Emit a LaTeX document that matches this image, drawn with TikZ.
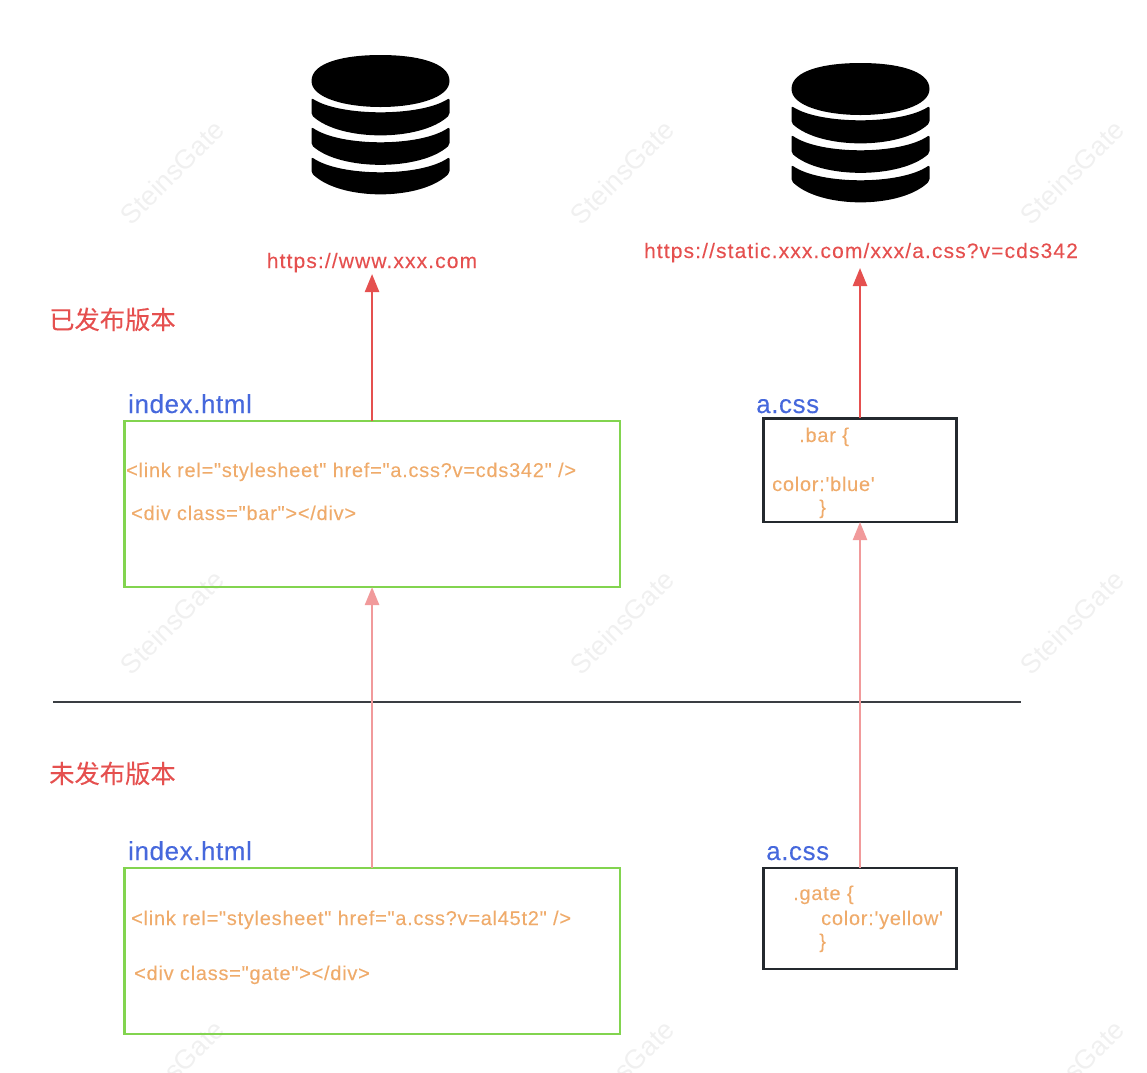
\documentclass[tikz,border=0pt]{standalone}
\usepackage{fontspec}
\newfontfamily\plainf{Liberation Sans}
\newfontfamily\urlf[LetterSpace=5.3,FakeBold=0.12]{Liberation Sans}
\newfontfamily\codef[LetterSpace=3.7,FakeBold=0.12]{Liberation Sans}
\newfontfamily\namef[LetterSpace=2.2,FakeBold=0.1]{Liberation Sans}
\newfontfamily\cjk[FakeBold=0.1]{Noto Sans CJK SC}
\usetikzlibrary{arrows.meta,positioning}
\definecolor{redc}{HTML}{E5504F}
\definecolor{pinkc}{HTML}{F19A9B}
\definecolor{orangec}{HTML}{EFAB6B}
\definecolor{bluec}{HTML}{4668DC}
\definecolor{greenc}{HTML}{82D44F}
\definecolor{darkc}{HTML}{24292E}
\definecolor{wmc}{HTML}{F0F0F0}
\tikzset{
  x=1pt,y=-1pt,
  greenbox/.style={draw=greenc,line width=2.4pt,minimum width=495.5pt,minimum height=166pt,inner sep=0pt,outer sep=0pt,anchor=north west},
  blackbox/.style={draw=darkc,line width=2.6pt,minimum width=193.4pt,inner sep=0pt,outer sep=0pt,anchor=north west},
  code/.style={text=orangec,font=\codef\fontsize{20}{22}\selectfont,anchor=base west,inner sep=0pt},
  fname/.style={text=bluec,font=\namef\fontsize{26}{28}\selectfont,anchor=base west,inner sep=0pt},
  urltext/.style={text=redc,font=\urlf\fontsize{21}{24}\selectfont,anchor=base,inner sep=0pt},
  version/.style={text=redc,font=\cjk\fontsize{25.3}{28}\selectfont,anchor=base west,inner sep=0pt},
  redarrow/.style={draw=redc,line width=2.4pt,-{Triangle[width=14pt,length=18pt]}},
  pinkarrow/.style={draw=pinkc,line width=2.4pt,-{Triangle[width=14pt,length=18pt]}},
  watermark/.style={text=wmc,font=\plainf\fontsize{27}{30}\selectfont,rotate=45,inner sep=0pt},
  dbicon/.pic={
    \fill[black] (-69,81) .. controls (-69,62) and (-35,55) .. (0,55) .. controls (35,55) and (69,62) .. (69,81) .. controls (69,98) and (35,107) .. (0,107) .. controls (-35,107) and (-69,98) .. cycle;
    \fill[black,rounded corners=2pt] (-69,98) .. controls (-40,116.7) and (40,116.7) .. (69,98) -- (69,115) .. controls (40,141.7) and (-40,141.7) .. (-69,115) -- cycle;
    \fill[black,rounded corners=2pt] (-69,127) .. controls (-40,147) and (40,147) .. (69,127) -- (69,145) .. controls (40,171) and (-40,171) .. (-69,145) -- cycle;
    \fill[black,rounded corners=2pt] (-69,157) .. controls (-40,177) and (40,177) .. (69,157) -- (69,173) .. controls (40,201) and (-40,201) .. (-69,173) -- cycle;
  }
}
\begin{document}
\begin{tikzpicture}
\useasboundingbox (0,0) rectangle (1147,1072);
% watermarks
\foreach \wx/\wy in {172/172,622/172,1072/172,172/622,622/622,1072/622,172/1072,622/1072,1072/1072}{
  \node[watermark] at (\wx,\wy) {SteinsGate};
}
% database icons
\pic at (380.5,0) {dbicon};
\pic at (860.5,8) {dbicon};
% url labels
\node[urltext] (url1) at (372,268) {https://www.xxx.com};
\node[urltext] (url2) at (861,258) {https://static.xxx.com/xxx/a.css?v=cds342};
% version labels
\node[version] (pub) at (49,329) {已发布版本};
\node[version] (unpub) at (49,783) {未发布版本};
% boxes
\node[greenbox] (idxA) at (124.3,421) {};
\node[greenbox] (idxB) at (124.3,868) {};
\node[blackbox,minimum height=103.7pt] (cssA) at (763.3,418.3) {};
\node[blackbox,minimum height=101pt] (cssB) at (763.3,868) {};
% box titles
\node[fname] (idxAt) at (128,413) {index.html};
\node[fname] (idxBt) at (128,860) {index.html};
\node[fname] (cssAt) at (756,413) {a.css};
\node[fname] (cssBt) at (766,860) {a.css};
% code
\node[code] (a1) at (126,477) {<link rel="stylesheet" href="a.css?v=cds342" />};
\node[code] (a2) at (131,520) {<div class="bar"></div>};
\node[code] (b1) at (131,925) {<link rel="stylesheet" href="a.css?v=al45t2" />};
\node[code] (b2) at (134,980) {<div class="gate"></div>};
\node[code] (c1) at (799,442) {.bar \{};
\node[code] (c2) at (772,491) {color:'blue'};
\node[code] (c3) at (819,514) {\}};
\node[code] (d1) at (793,900) {.gate \{};
\node[code] (d2) at (821,925) {color:'yellow'};
\node[code] (d3) at (819,948) {\}};
% divider
\coordinate (divL) at (53,702);
\coordinate (divR) at (1021,702);
\draw[draw=darkc!90,line width=2.2pt] (divL) -- (divR);
% connectors
\draw[redarrow] (idxA.north) -- (idxA.north |- 0,274);
\draw[redarrow] (cssA.north) -- (cssA.north |- 0,268);
\draw[pinkarrow] (idxB.north) -- (idxA.south);
\draw[pinkarrow] (cssB.north) -- (cssA.south);
\end{tikzpicture}
\end{document}
